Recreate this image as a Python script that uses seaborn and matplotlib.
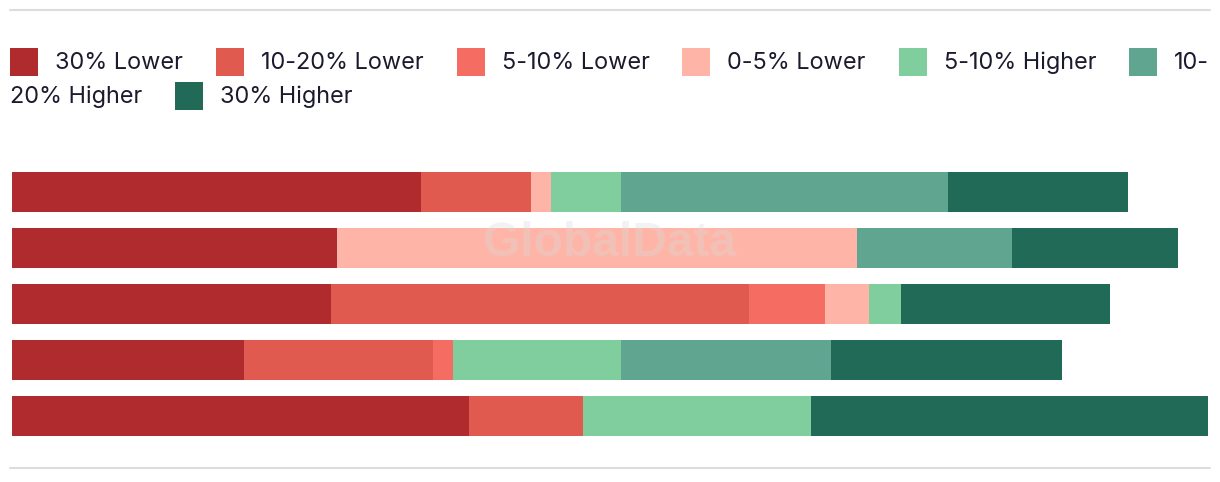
import pandas as pd
import matplotlib
matplotlib.use("Agg")
import matplotlib.pyplot as plt
import seaborn as sns
from matplotlib.patches import Rectangle
from matplotlib.lines import Line2D

W, H = 1220, 482

rows = ["Row 1", "Row 2", "Row 3", "Row 4", "Row 5"]
categories = ["30% Lower", "10-20% Lower", "5-10% Lower", "0-5% Lower",
              "5-10% Higher", "10-20% Higher", "30% Higher"]
colors = ["#af2b2e", "#e05a4f", "#f46c62", "#feb5a7",
          "#80cd9d", "#60a590", "#216a57"]

lower_30 = [41.0, 32.6, 32.0, 23.2, 45.8]
lower_10_20 = [11.0, 0.0, 41.8, 19.0, 11.4]
lower_5_10 = [0.0, 0.0, 7.6, 2.0, 0.0]
lower_0_5 = [2.0, 52.0, 4.4, 0.0, 0.0]
higher_5_10 = [7.0, 0.0, 3.2, 16.8, 22.8]
higher_10_20 = [32.8, 15.6, 0.0, 21.0, 0.0]
higher_30 = [18.0, 16.6, 21.0, 23.2, 39.8]

series = [lower_30, lower_10_20, lower_5_10, lower_0_5,
          higher_5_10, higher_10_20, higher_30]

df = pd.DataFrame(dict(zip(categories, series)), index=rows)
cum = df.cumsum(axis=1).reset_index(names="row")

sns.set_theme(style="white")
FONT = ["Inter", "DejaVu Sans"]
plt.rcParams["font.family"] = FONT
TEXT_COLOR = "#1b1b2e"

fig = plt.figure(figsize=(W / 100, H / 100), dpi=100)
ax = fig.add_axes([12 / W, 38 / H, 1196 / W, 280 / H])

# stacked bars: draw cumulative totals from the last category back to the first
for cat, col in reversed(list(zip(categories, colors))):
    sns.barplot(data=cum, x=cat, y="row", color=col, orient="h", width=0.714,
                saturation=1, linewidth=0, ax=ax)

ax.set_xlim(0, df.sum(axis=1).max())
ax.set_ylim(len(rows) - 0.5, -0.5)
ax.set_axis_off()

# thin rules top and bottom
for yp in (10, 468):
    fig.add_artist(Line2D([10 / W, 1210 / W], [1 - yp / H] * 2,
                          color="#dddddd", lw=1.5))

# watermark
fig.text(610 / W, 1 - 243 / H, "GlobalData", fontsize=34.5, fontweight="bold",
         family="Liberation Sans", color="#d8d8d8", alpha=0.33,
         ha="center", va="center", zorder=10)

# flowing legend
renderer = fig.canvas.get_renderer()
FS = 16.9
SQ, GAP_T, GAP_I = 28, 17, 33
MAX_X = 1212
baselines = [69, 103]


def text_width(s):
    t = fig.text(0, 0, s, fontsize=FS)
    w = t.get_window_extent(renderer).width
    t.remove()
    return w


def put_text(x, line, s):
    fig.text(x / W, 1 - baselines[line] / H, s, fontsize=FS,
             color=TEXT_COLOR, va="baseline", ha="left")


def put_square(x, line, col):
    top = baselines[line] - 21
    fig.add_artist(Rectangle((x / W, 1 - (top + SQ) / H), SQ / W, SQ / H,
                             transform=fig.transFigure, color=col, lw=0))


x, line = 10, 0
for cat, col in zip(categories, colors):
    w = text_width(cat)
    if x + SQ + GAP_T + w > MAX_X:
        head, sep, tail = cat.partition("-")
        head = head + sep
        if sep and x + SQ + GAP_T + text_width(head) <= MAX_X:
            put_square(x, line, col)
            put_text(x + SQ + GAP_T, line, head)
            line += 1
            put_text(10, line, tail)
            x = 10 + text_width(tail) + GAP_I
            continue
        line += 1
        x = 10
    put_square(x, line, col)
    put_text(x + SQ + GAP_T, line, cat)
    x += SQ + GAP_T + w + GAP_I

fig.savefig("out.png", dpi=100)
